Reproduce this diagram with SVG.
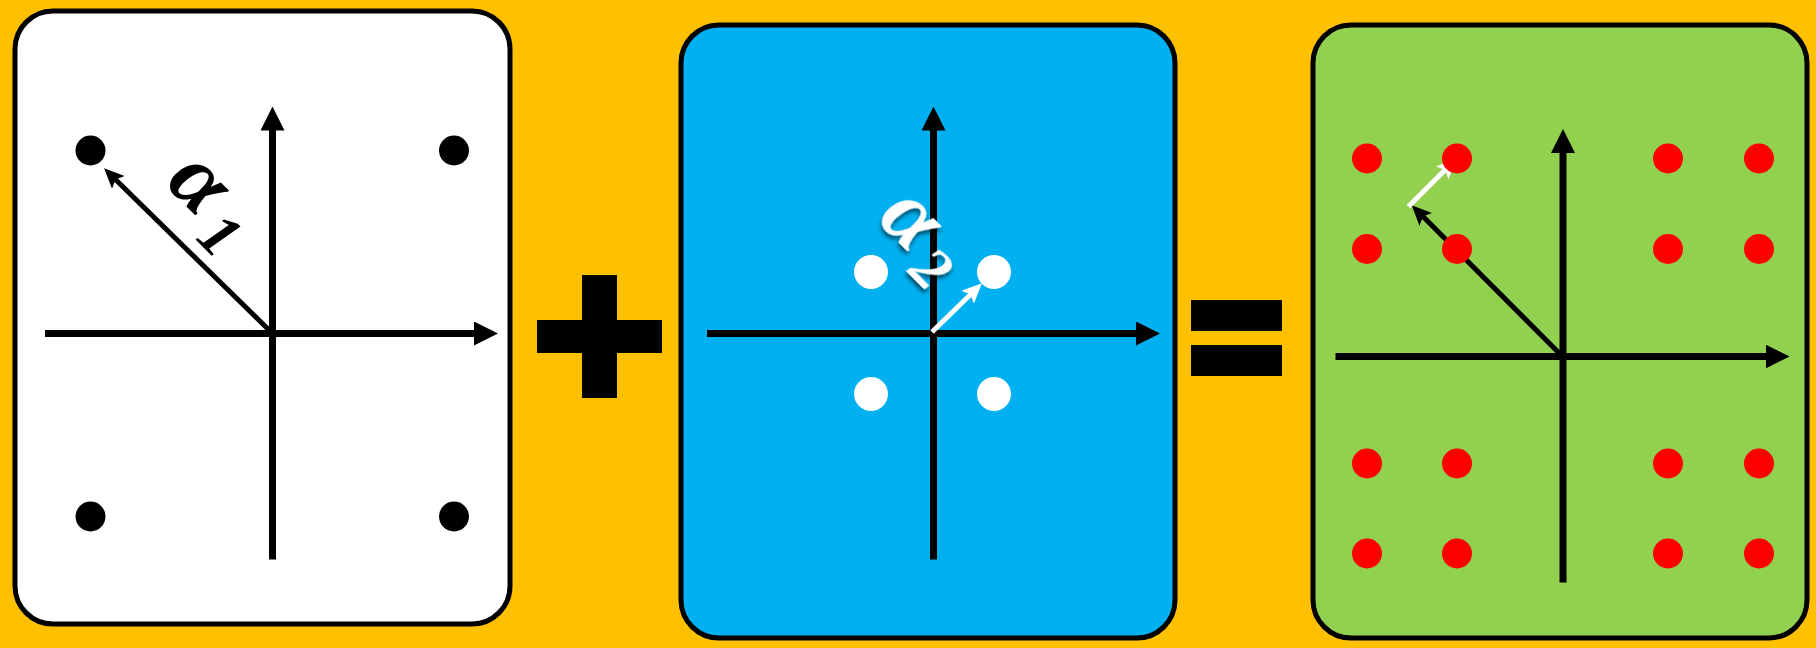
<svg xmlns="http://www.w3.org/2000/svg" width="1816" height="648" viewBox="0 0 1816 648">
<defs>
<style>
.panel{stroke:#000;stroke-width:5}
.axis{stroke:#000;stroke-width:7;fill:none}
.vec{stroke-width:5;fill:none}
.lbl{font-family:"Liberation Serif","DejaVu Serif",serif;font-weight:bold;font-style:italic;font-size:90px}
.sub{font-size:62px}
</style>
<marker id="ah" viewBox="0 0 24 24" markerWidth="24" markerHeight="24" refX="4" refY="12" orient="auto" markerUnits="userSpaceOnUse"><path d="M0,0 L24,12 L0,24 z" fill="#000"/></marker>
<marker id="vb" viewBox="0 0 20 18" markerWidth="20" markerHeight="18" refX="4" refY="9" orient="auto" markerUnits="userSpaceOnUse"><path d="M0,0 L20,9 L0,18 L4,9 z" fill="#000"/></marker>
<marker id="vw" viewBox="0 0 20 18" markerWidth="20" markerHeight="18" refX="4" refY="9" orient="auto" markerUnits="userSpaceOnUse"><path d="M0,0 L20,9 L0,18 L4,9 z" fill="#fff"/></marker>
<filter id="sh" x="-30%" y="-30%" width="160%" height="160%"><feDropShadow dx="2" dy="3" stdDeviation="2" flood-color="#000" flood-opacity="0.6"/></filter>
</defs>
<rect x="0" y="0" width="1816" height="648" fill="#FFC000"/>

<g id="panel1">
<rect class="panel" x="15" y="11" width="495" height="613" rx="38" fill="#fff"/>
<g id="axes1">
<line class="axis" x1="272.5" y1="559.5" x2="272.5" y2="126.5" marker-end="url(#ah)"/>
<line class="axis" x1="45" y1="333.5" x2="478" y2="333.5" marker-end="url(#ah)"/>
</g>
<g fill="#000">
<circle cx="90.5" cy="150.5" r="15"/>
<circle cx="454" cy="150.5" r="15"/>
<circle cx="90.5" cy="516.5" r="15"/>
<circle cx="454" cy="516.5" r="15"/>
</g>
</g>

<g id="panel2">
<rect class="panel" x="681" y="25" width="494" height="613" rx="38" fill="#00B0F0"/>
<g id="axes2">
<line class="axis" x1="933.5" y1="559.5" x2="933.5" y2="126.5" marker-end="url(#ah)"/>
<line class="axis" x1="707" y1="333.5" x2="1140" y2="333.5" marker-end="url(#ah)"/>
</g>
<g fill="#fff">
<circle cx="871" cy="272" r="17"/>
<circle cx="994" cy="272" r="17"/>
<circle cx="871" cy="394" r="17"/>
<circle cx="994" cy="394" r="17"/>
</g>
</g>

<g id="panel3">
<rect class="panel" x="1313" y="25" width="494" height="613" rx="38" fill="#92D050"/>
<g id="axes3">
<line class="axis" x1="1563" y1="582.5" x2="1563" y2="149" marker-end="url(#ah)"/>
<line class="axis" x1="1335.5" y1="356.5" x2="1769.5" y2="356.5" marker-end="url(#ah)"/>
</g>
</g>

<g id="connectors">
<line class="vec" stroke="#000" x1="272.5" y1="333.5" x2="115.5" y2="179.5" marker-end="url(#vb)"/>
<line class="vec" stroke="#fff" x1="932" y1="332" x2="970.5" y2="294.5" marker-end="url(#vw)"/>
<line class="vec" stroke="#000" x1="1562.5" y1="356.5" x2="1423" y2="216.5" marker-end="url(#vb)"/>
<line class="vec" stroke="#fff" x1="1408.5" y1="206.5" x2="1445" y2="170" marker-end="url(#vw)"/>
</g>

<g id="dots3" fill="#FF0000">
<circle cx="1367" cy="158.5" r="15"/>
<circle cx="1457" cy="158.5" r="15"/>
<circle cx="1668" cy="158.5" r="15"/>
<circle cx="1759" cy="158.5" r="15"/>
<circle cx="1367" cy="249" r="15"/>
<circle cx="1457" cy="249" r="15"/>
<circle cx="1668" cy="249" r="15"/>
<circle cx="1759" cy="249" r="15"/>
<circle cx="1367" cy="463.5" r="15"/>
<circle cx="1457" cy="463.5" r="15"/>
<circle cx="1668" cy="463.5" r="15"/>
<circle cx="1759" cy="463.5" r="15"/>
<circle cx="1367" cy="553.5" r="15"/>
<circle cx="1457" cy="553.5" r="15"/>
<circle cx="1668" cy="553.5" r="15"/>
<circle cx="1759" cy="553.5" r="15"/>
</g>

<g id="label1">
<text class="lbl" fill="#000" transform="translate(164,184) rotate(45)">α<tspan class="sub" x="60" y="17">1</tspan></text>
</g>
<g id="label2">
<text class="lbl" fill="#fff" filter="url(#sh)" transform="translate(876,220) rotate(45)">α<tspan class="sub" x="58" y="15">2</tspan></text>
</g>

<g id="plus" fill="#000">
<rect x="582" y="275" width="35" height="123"/>
<rect x="537" y="320" width="125" height="33"/>
</g>
<g id="equals" fill="#000">
<rect x="1191" y="300" width="91" height="31"/>
<rect x="1191" y="345" width="91" height="31"/>
</g>
</svg>
